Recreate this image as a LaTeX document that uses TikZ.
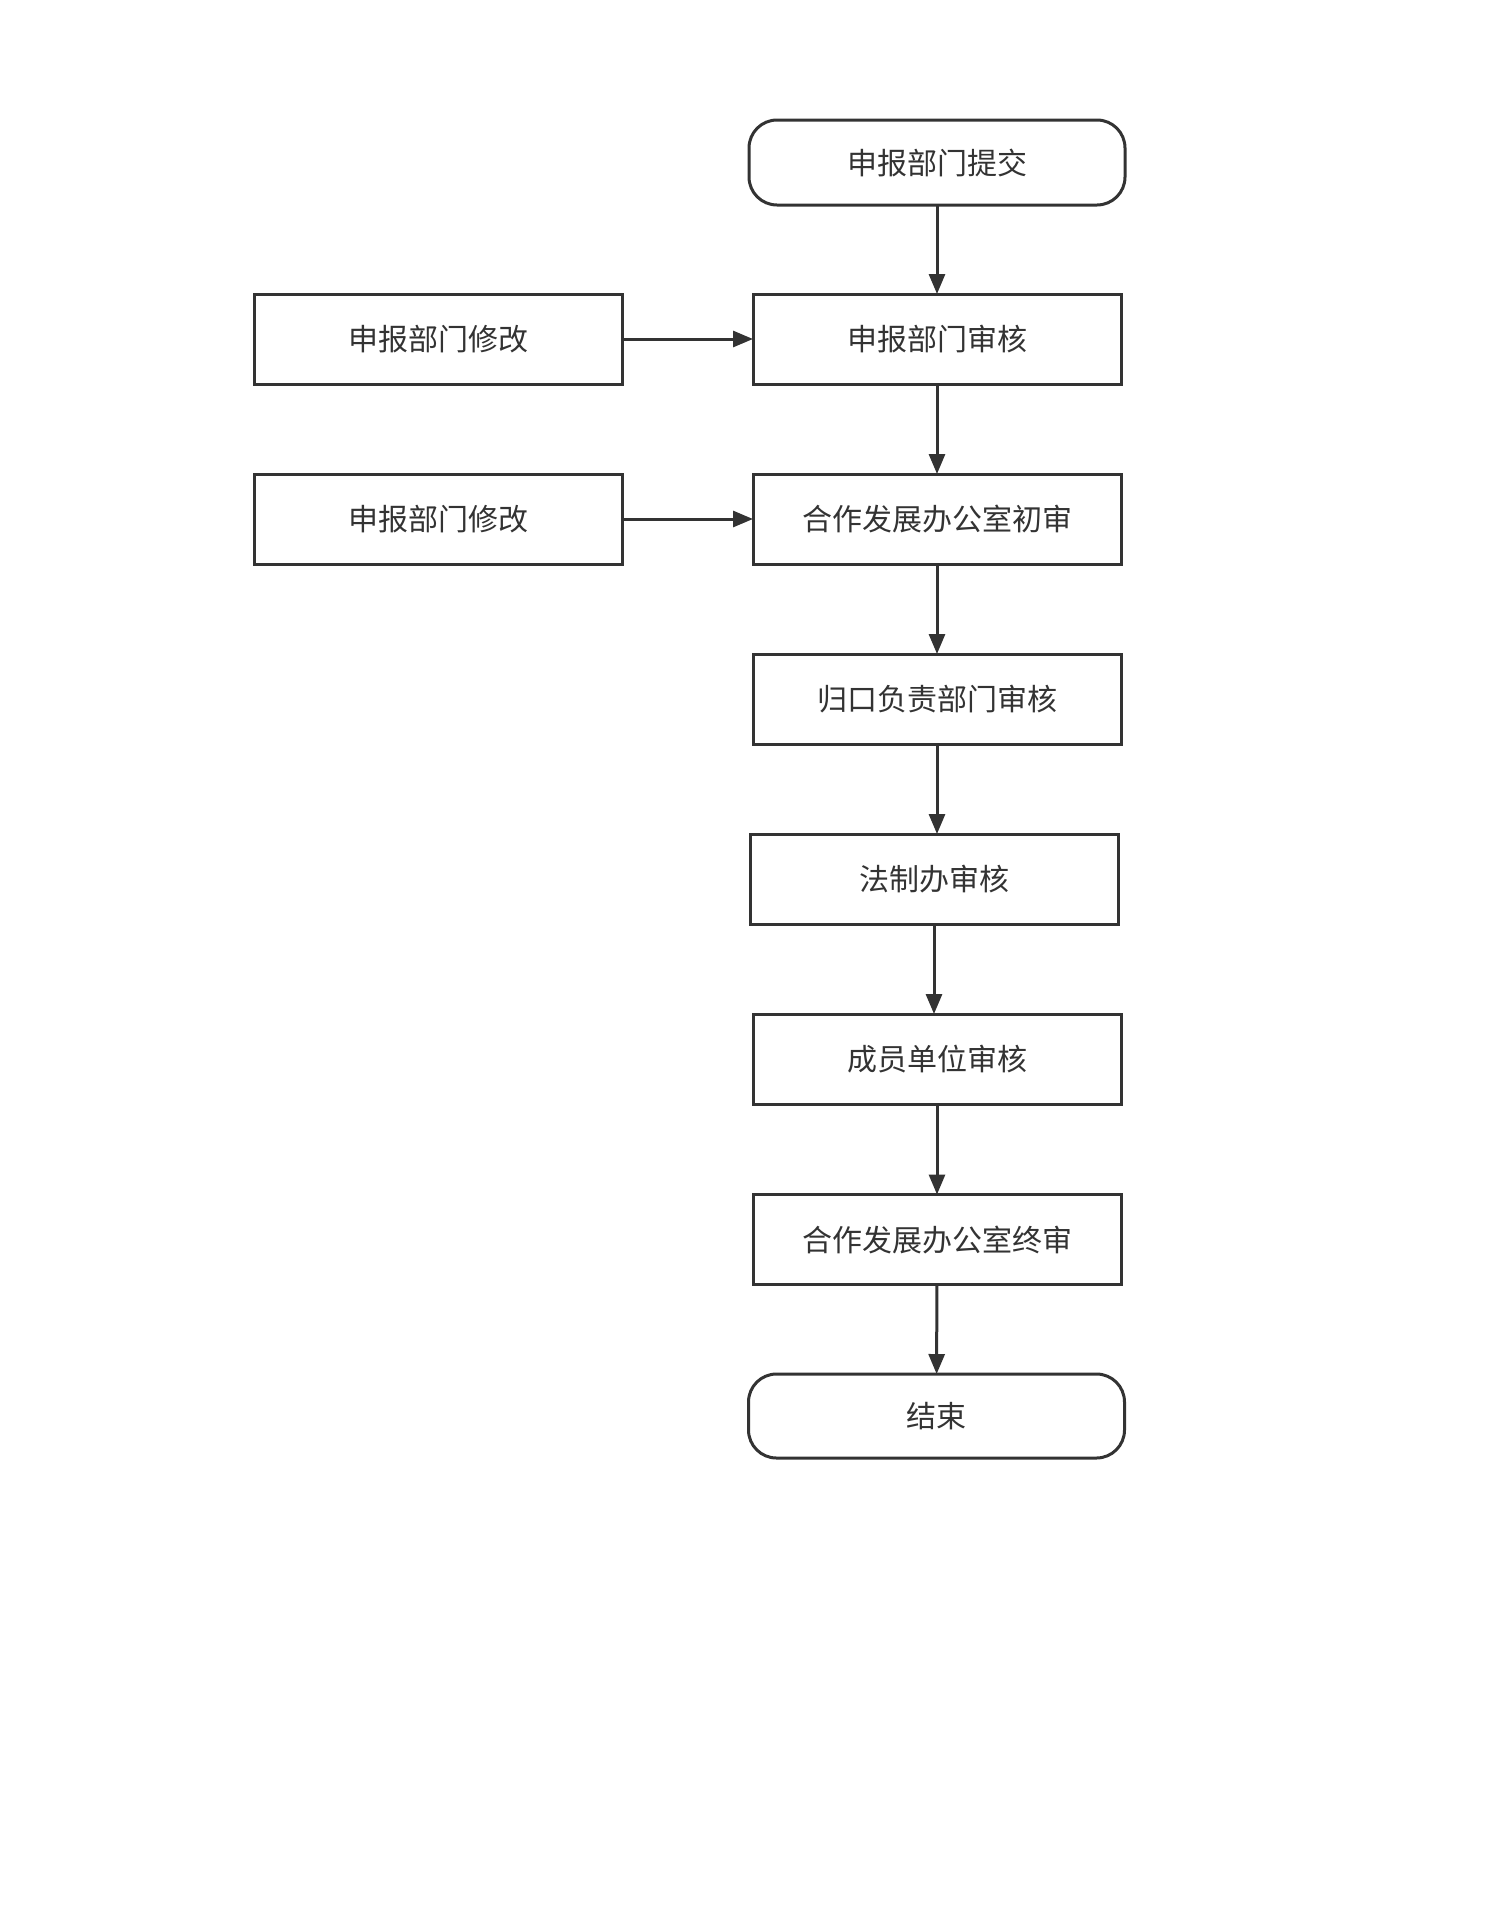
\documentclass[tikz,border=0pt]{standalone}
\usepackage{fontspec}
\newfontfamily\cjk{Noto Sans CJK SC}
\usetikzlibrary{arrows.meta}
\definecolor{linegray}{HTML}{333333}
\tikzset{
  box/.style={draw=linegray,line width=1.5pt,minimum width=184pt,minimum height=45pt,inner sep=0pt,outer sep=0pt,text=linegray,font=\cjk\fontsize{15}{18}\selectfont},
  term/.style={box,rounded corners=14pt,minimum width=188pt,minimum height=42.5pt},
  arr/.style={draw=linegray,line width=1.5pt,-{Triangle[length=10pt,width=8pt]}}
}

\begin{document}
\begin{tikzpicture}[x=0.5pt,y=-0.5pt]
\useasboundingbox (0,0) rectangle (1506,1906);
\draw (937,162.5) node[term](submit) {申报部门提交};
\draw (937,339) node[box](deptcheck) {申报部门审核};
\draw (937,519) node[box](firstcheck) {合作发展办公室初审};
\draw (937,699) node[box](leadcheck) {归口负责部门审核};
\draw (934,879) node[box](legalcheck) {法制办审核};
\draw (937,1059) node[box](membercheck) {成员单位审核};
\draw (937,1239.5) node[box](finalcheck) {合作发展办公室终审};
\draw (936.5,1416) node[term,minimum height=42pt](finish) {结束};
\draw (438.5,339) node[box](reviseone) {申报部门修改};
\draw (438.5,519) node[box](revisetwo) {申报部门修改};
\draw[arr] (submit) -- (deptcheck);
\draw[arr] (deptcheck) -- (firstcheck);
\draw[arr] (firstcheck) -- (leadcheck);
\draw[arr] (leadcheck.south) -- (leadcheck.south |- legalcheck.north);
\draw[arr] (legalcheck.south) -- (legalcheck.south |- membercheck.north);
\draw[arr] (membercheck) -- (finalcheck);
\draw[arr] (finalcheck) -- (finish);
\draw[arr] (reviseone) -- (deptcheck);
\draw[arr] (revisetwo) -- (firstcheck);
\end{tikzpicture}
\end{document}
